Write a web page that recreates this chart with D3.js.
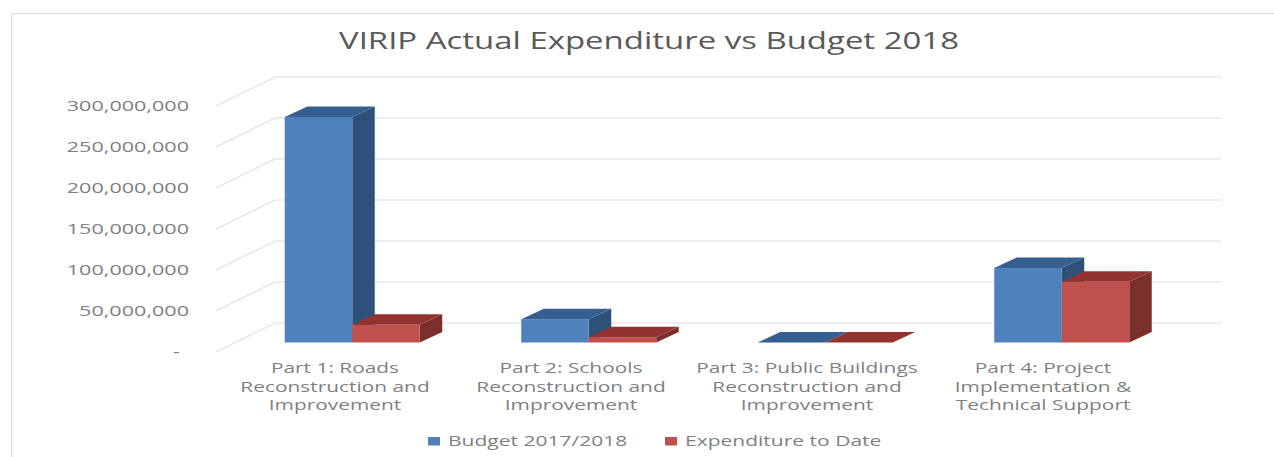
<!DOCTYPE html>
<html>
<head>
<meta charset="utf-8">
<script src="https://cdn.jsdelivr.net/npm/d3@7/dist/d3.min.js"></script>
<style>
  html, body { margin: 0; padding: 0; background: #fff; overflow: hidden; }
  text { font-family: "Open Sans", "Liberation Sans", sans-serif; fill: #7f7f7f; }
</style>
</head>
<body>
<svg id="chart" width="1274" height="457"></svg>
<script>
const categories = [
  ["Part 1: Roads", "Reconstruction and", "Improvement"],
  ["Part 2: Schools", "Reconstruction and", "Improvement"],
  ["Part 3: Public Buildings", "Reconstruction and", "Improvement"],
  ["Part 4: Project", "Implementation &", "Technical Support"]
];
const seriesNames = ["Budget 2017/2018", "Expenditure to Date"];
const budget = [275000000, 28500000, 0, 91000000];
const expenditure = [21500000, 6500000, 0, 74000000];
const yTicks = [0, 50000000, 100000000, 150000000, 200000000, 250000000, 300000000];

const frontColors = ["#4f81bd", "#c0504d"];
const topColors = ["#365f91", "#923330"];
const sideColors = ["#2f5079", "#7a2f2d"];

const svg = d3.select("#chart");

// Chart frame: only the top and left edges are visible
svg.append("path")
  .attr("d", "M11.5,457V13.5H1274")
  .attr("fill", "none")
  .attr("stroke", "#dcdcdc");

// Value scale on the plane of the bars' front faces
const y = d3.scaleLinear().domain([0, 300000000]).range([342.5, 96.5]);

// Oblique offsets for the floor and for the depth of a bar
const wall = { dx: 39, dy: -19.5 };
const floorFront = { dx: -20, dy: 9.5 };
const depth = { dx: 22.5, dy: -10.5 };

const xBars = d3.scaleBand().domain(d3.range(categories.length)).range([234, 1180]);
const xLabels = d3.scaleBand().domain(d3.range(categories.length)).range([217, 1161]);
const barWidth = 67.5;

// Stretched label helper: the text is widened along x around its anchor
function wideText(parent, x, yPos, str, size, sx, anchor, color) {
  return parent.append("text")
    .attr("transform", `translate(${x},${yPos}) scale(${sx},1)`)
    .attr("text-anchor", anchor)
    .attr("font-size", size)
    .style("fill", color || null)
    .text(str);
}

// Gridlines along the back wall and down the side wall
const grid = svg.append("g").attr("fill", "none").attr("stroke", "#dedede").attr("stroke-width", 1.2);
yTicks.forEach(t => {
  const yp = y(t);
  const backX = 275, frontX = 216;
  grid.append("path").attr("d",
    `M${frontX},${yp + floorFront.dy}L${backX},${yp + wall.dy}L1222,${yp + wall.dy}`);
});

// Value axis labels
const fmt = d3.format(",");
yTicks.forEach(t => {
  wideText(svg, t === 0 ? 180 : 189, y(t) + 14, t === 0 ? "-" : fmt(t), 15, 1.44, "end");
});

// Bars, drawn as three faces each
[budget, expenditure].forEach((values, s) => {
  values.forEach((v, i) => {
    const x0 = xBars(i) + xBars.bandwidth() / 2 - barWidth + s * barWidth;
    const x1 = x0 + barWidth;
    const yTop = y(v), yBase = y(0);
    const g = svg.append("g");
    g.append("path").attr("fill", sideColors[s])
      .attr("d", `M${x1},${yBase}L${x1 + depth.dx},${yBase + depth.dy}L${x1 + depth.dx},${yTop + depth.dy}L${x1},${yTop}Z`);
    g.append("path").attr("fill", topColors[s])
      .attr("d", `M${x0},${yTop}L${x0 + depth.dx},${yTop + depth.dy}L${x1 + depth.dx},${yTop + depth.dy}L${x1},${yTop}Z`);
    g.append("rect").attr("fill", frontColors[s])
      .attr("x", x0).attr("y", yTop).attr("width", barWidth).attr("height", yBase - yTop);
  });
});

// Category labels
categories.forEach((lines, i) => {
  lines.forEach((line, j) => {
    wideText(svg, xLabels(i) + xLabels.bandwidth() / 2, 373 + j * 18.5, line, 14.5, 1.44, "middle");
  });
});

// Title
wideText(svg, 649, 49, "VIRIP Actual Expenditure vs Budget 2018", 24.5, 1.345, "middle", "#595959");

// Legend
const legendX = [428, 665];
const legendTextX = [448, 685];
seriesNames.forEach((name, s) => {
  svg.append("rect").attr("x", legendX[s]).attr("y", 437).attr("width", 12).attr("height", 8.5).attr("fill", frontColors[s]);
  wideText(svg, legendTextX[s], 445.5, name, 14.5, 1.45, "start");
});
</script>
</body>
</html>
